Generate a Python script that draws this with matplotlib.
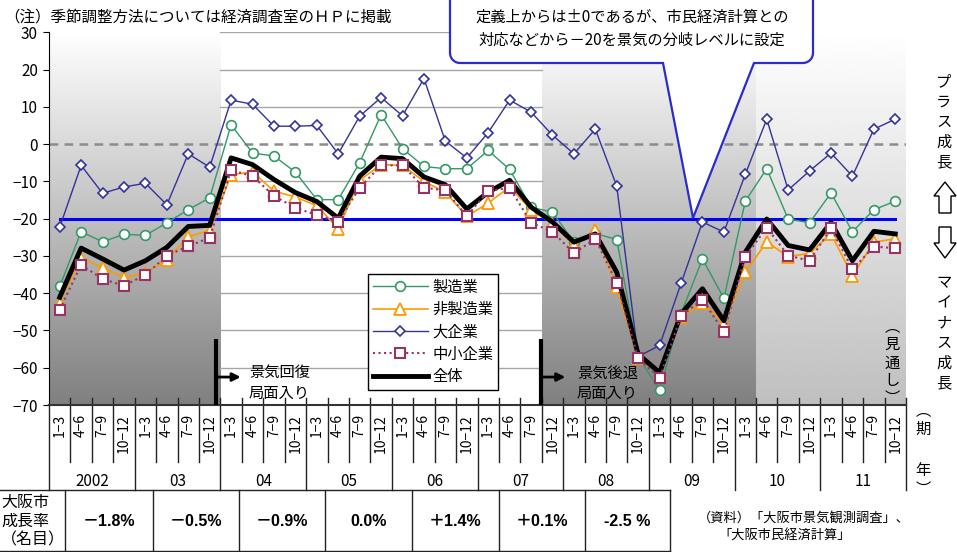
import numpy as np
import matplotlib
matplotlib.use("Agg")
import matplotlib.pyplot as plt
from matplotlib.patches import Polygon
from matplotlib.lines import Line2D
from matplotlib.transforms import blended_transform_factory

plt.rcParams['font.family'] = ['Noto Sans CJK JP', 'DejaVu Sans']

W, H = 957, 552

quarters = ["1−3", "4−6", "7−9", "10−12"] * 10
years = ["2002", "03", "04", "05", "06", "07", "08", "09", "10", "11"]

# 2002 Q1 .. 2011 Q4
seizo = [-38.2, -23.5, -26.2, -24.2, -24.5, -21.1, -17.6, -14.4, 5.2, -2.4,
         -3.2, -7.5, -14.9, -14.9, -5.0, 7.9, -1.2, -6.0, -6.6, -6.6,
         -1.7, -6.8, -16.9, -18.3, -26.2, -24.0, -25.6, -57.0, -66.0, -45.5,
         -30.8, -41.4, -15.3, -6.6, -20.1, -21.1, -13.1, -23.5, -17.6, -15.3]
hiseizo = [-42.5, -30.5, -33.2, -35.8, -34.5, -31.1, -24.8, -23.2, -8.2, -7.5,
           -12.6, -14.2, -16.5, -22.7, -9.7, -5.5, -5.7, -10.0, -12.9, -19.4,
           -15.8, -11.5, -17.6, -21.4, -27.2, -23.0, -38.4, -57.5, -61.3, -46.5,
           -42.5, -48.1, -34.4, -26.2, -30.2, -29.3, -24.1, -35.3, -26.3, -25.4]
daikigyo = [-22.3, -5.7, -13.2, -11.5, -10.5, -16.3, -2.6, -6.2, 11.8, 10.7,
            4.8, 4.8, 5.0, -2.6, 7.5, 12.5, 7.6, 17.6, 0.8, -3.7,
            3.1, 11.8, 8.6, 2.4, -2.6, 4.0, -11.3, -57.0, -54.0, -37.4,
            -20.9, -23.6, -8.1, 6.7, -12.3, -7.2, -2.4, -8.6, 4.0, 6.7]
chusho = [-44.4, -32.4, -36.2, -38.0, -35.1, -29.9, -27.4, -25.1, -7.0, -8.6,
          -13.9, -17.1, -19.0, -20.8, -11.7, -5.7, -5.7, -11.7, -12.4, -19.3,
          -12.6, -11.7, -21.1, -23.5, -29.3, -25.4, -37.3, -57.5, -62.7, -46.1,
          -41.7, -50.4, -30.2, -22.4, -29.9, -31.3, -22.6, -33.6, -27.5, -27.9]
zentai = [-41.1, -27.9, -30.8, -33.8, -31.3, -27.7, -22.1, -21.8, -3.7, -5.5,
          -9.5, -13.0, -15.4, -19.9, -8.6, -3.5, -3.9, -8.8, -10.9, -17.4,
          -12.9, -9.7, -16.9, -20.9, -26.3, -24.1, -34.4, -56.4, -61.3, -45.6,
          -38.8, -47.4, -29.0, -20.1, -27.2, -28.4, -21.0, -31.3, -23.4, -24.1]

growth_labels = ["－1.8%", "－0.5%", "－0.9%", "0.0%", "＋1.4%", "＋0.1%", "-2.5 %"]


def fx(px):
    return px / W


def fy(py):
    return 1 - py / H


fig = plt.figure(figsize=(W / 100, H / 100), dpi=100)
ax = fig.add_axes([fx(49), fy(405), 857 / W, (405 - 32.3) / H])

xq = np.arange(40) + 0.5

# shaded phases (gradient, white at top)
for x0, x1, lo in [(0, 8, 0.5), (23, 33, 0.5), (33, 40, 0.75)]:
    ax.imshow(np.linspace(1.0, lo, 256)[:, None], extent=[x0, x1, -70, 30],
              cmap='gray', vmin=0, vmax=1, aspect='auto', zorder=0,
              interpolation='bilinear')

for v in [30, 20, 10, -10, -20, -30, -40, -50, -60]:
    ax.plot([8, 23], [v, v], color='#a6a6a6', lw=1, zorder=1)

ax.axhline(0, color='#8c8c8c', lw=1.8, ls=(0, (3.5, 2.5)), zorder=1)
ax.plot([xq[0], xq[-1]], [-20, -20], color='#0000ff', lw=2.2, zorder=2)

ax.plot(xq, daikigyo, color='#333399', lw=1, marker='D', ms=5, mfc='white',
        mec='#333399', mew=1.2, zorder=3)
ax.plot(xq, seizo, color='#339966', lw=1, marker='o', ms=7, mfc='white',
        mec='#339966', mew=1.2, zorder=4)
ax.plot(xq, hiseizo, color='#ff9900', lw=1.2, marker='^', ms=8, mfc='white',
        mec='#ff9900', mew=1.3, zorder=5)
ax.plot(xq, zentai, color='black', lw=3.5, zorder=6)
ax.plot(xq, chusho, color='#993366', lw=1.5, ls=':', marker='s', ms=7.5,
        mfc='white', mec='#993366', mew=1.5, zorder=7)

ax.set_xlim(0, 40)
ax.set_ylim(-70, 30)
ax.set_xticks([])
ax.set_yticks(range(-70, 31, 10))
ax.tick_params(axis='y', direction='out', length=4, labelsize=11, pad=4)
for s in ['top', 'right']:
    ax.spines[s].set_visible(False)
ax.spines['left'].set_color('black')
ax.spines['bottom'].set_color('#333333')
ax.spines['bottom'].set_linewidth(1.5)

# phase markers
for xv, xa, xt, txt in [(7.8, 8.95, 9.33, "景気回復\n局面入り"),
                         (22.95, 24.1, 24.64, "景気後退\n局面入り")]:
    ax.plot([xv, xv], [-70, -52.2], color='black', lw=3, solid_capstyle='butt',
            zorder=8)
    ax.annotate('', xy=(xa, -62.5), xytext=(xv, -62.5),
                arrowprops=dict(arrowstyle='-|>', color='black', lw=2,
                                mutation_scale=12, shrinkA=0, shrinkB=0),
                zorder=8)
    ax.text(xt, -64.1, txt, ha='left', va='center', fontsize=11,
            linespacing=1.25, zorder=8)

# legend
handles = [
    Line2D([], [], color='#339966', lw=1, marker='o', ms=7, mfc='white', mew=1.2),
    Line2D([], [], color='#ff9900', lw=1.2, marker='^', ms=8, mfc='white', mew=1.3),
    Line2D([], [], color='#333399', lw=1, marker='D', ms=5, mfc='white', mew=1.2),
    Line2D([], [], color='#993366', lw=1.5, ls=':', marker='s', ms=7.5,
           mfc='white', mew=1.5),
    Line2D([], [], color='black', lw=3.5),
]
labels = ["製造業", "非製造業", "大企業", "中小企業", "全体"]
leg = ax.legend(handles, labels, loc='upper left',
                bbox_to_anchor=(fx(368), fy(274)), bbox_transform=fig.transFigure,
                frameon=True, fancybox=False, edgecolor='black', framealpha=1,
                fontsize=11, handlelength=3.6, borderpad=0.3, labelspacing=0.35,
                handletextpad=0.3, borderaxespad=0)
leg.get_frame().set_linewidth(1)
leg.set_zorder(9)

# x axis table: quarters and years
trans = blended_transform_factory(ax.transData, fig.transFigure)
for k in range(41):
    y_end = 490 if k % 4 == 0 else 462
    y_start = 405 if k == 0 else 398
    ax.add_artist(Line2D([k, k], [fy(y_start), fy(y_end)], transform=trans,
                         color='#222222', lw=1, clip_on=False))
for i in range(40):
    ax.text(xq[i], fy(414), quarters[i], transform=trans, rotation=90,
            ha='center', va='top', fontsize=10)
for j, yl in enumerate(years):
    ax.text(4 * j + 2, fy(482), yl, transform=trans, ha='center', va='center',
            fontsize=11)

# growth rate table
bounds = [65, 153, 239, 325, 412, 499, 585, 670]
for yy in [490, 551]:
    fig.add_artist(Line2D([fx(0), fx(670)], [fy(yy), fy(yy)], color='#222222', lw=1))
for b in bounds:
    fig.add_artist(Line2D([fx(b), fx(b)], [fy(490), fy(551)], color='#222222', lw=1))
fig.text(fx(1), fy(521), "大阪市\n成長率\n（名目）", ha='left', va='center',
         fontsize=11.5, linespacing=1.15)
for n, lab in enumerate(growth_labels):
    fig.text(fx((bounds[n] + bounds[n + 1]) / 2), fy(521), lab, ha='center',
             va='center', fontsize=11.5, fontweight='bold',
             family=['Liberation Sans', 'Noto Sans CJK JP', 'DejaVu Sans'])

fig.text(fx(698), fy(518), "（資料）「大阪市景気観測調査」、", ha='left', va='center',
         fontsize=9.5)
fig.text(fx(718), fy(536), "「大阪市民経済計算」", ha='left', va='center',
         fontsize=9.5)

# notes
fig.text(fx(4), fy(17), "（注）季節調整方法については経済調査室のＨＰに掲載",
         ha='left', va='center', fontsize=11.2)

# callout
def corner(cx, cy, r, a0, a1):
    a = np.radians(np.linspace(a0, a1, 8))
    return list(zip(cx + r * np.cos(a), cy + r * np.sin(a)))

pts = [(450, -5)] + corner(460, 53, 10, 180, 90) + [(663, 63), (693, 218), (754, 63)] \
    + corner(803, 53, 10, 90, 0) + [(813, -5)]
fig.add_artist(Polygon([(fx(a), fy(b)) for a, b in pts], closed=True,
                       transform=fig.transFigure, facecolor='white',
                       edgecolor='#2b2bd0', lw=1.6, zorder=5))
fig.text(fx(632), fy(17), "定義上からは±0であるが、市民経済計算との", ha='center',
         va='center', fontsize=11, zorder=6)
fig.text(fx(632), fy(40), "対応などから－20を景気の分岐レベルに設定", ha='center',
         va='center', fontsize=11, zorder=6)

# right side vertical texts
for ch, yy in zip("プラス成長", [82, 102, 122, 142, 162]):
    fig.text(fx(944), fy(yy), ch, ha='center', va='center', fontsize=11)
for ch, yy in zip("マイナス成長", [283, 303, 323, 343, 363, 383]):
    fig.text(fx(944), fy(yy), ch, ha='center', va='center', fontsize=11)
for ch, yy in zip(["︵", "期", "年", "︶"], [411, 429, 470, 489]):
    fig.text(fx(923), fy(yy), ch, ha='center', va='center', fontsize=11)
for ch, yy in zip(["︵", "見", "通", "し", "︶"], [327, 344, 363, 381, 398]):
    fig.text(fx(892), fy(yy), ch, ha='center', va='center', fontsize=11, zorder=10)

cx = 945
up = [(cx, 182), (cx - 11, 196), (cx - 6, 196), (cx - 6, 213), (cx + 6, 213),
      (cx + 6, 196), (cx + 11, 196)]
down = [(cx, 258), (cx - 11, 243), (cx - 6, 243), (cx - 6, 227), (cx + 6, 227),
        (cx + 6, 243), (cx + 11, 243)]
for shape in [up, down]:
    fig.add_artist(Polygon([(fx(a), fy(b)) for a, b in shape], closed=True,
                           transform=fig.transFigure, facecolor='white',
                           edgecolor='black', lw=1))

fig.savefig("out.png", dpi=100, facecolor='white')
